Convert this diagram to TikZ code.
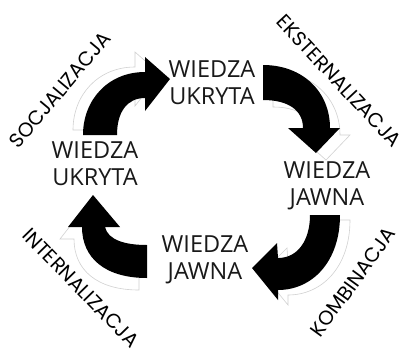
\documentclass[tikz,border=0pt]{standalone}
\usepackage{fontspec}
\setmainfont{Open Sans}
\newfontfamily\labelfont{Poppins}
\tikzset{
  know/.style={font=\fontsize{23.5}{27}\selectfont, align=center, inner sep=0pt, text=black!90},
  proc/.style={font=\labelfont\fontsize{20}{21}\selectfont, inner sep=0pt, text=black},
  blackarrow/.style={fill=black, draw=none},
  shadowarrow/.style={draw=black!18, line width=0.6pt, fill=white},
}
\def\arrowOne{(83,135) -- (117,135) .. controls (117,112) and (127,98) .. (145,98) -- (145,111) -- (170,79) -- (145,57) -- (145,72) .. controls (108,72) and (83,100) .. (83,135) -- cycle}
\def\arrowTwo{(263,65) .. controls (303,65) and (330,92) .. (330,128) -- (340,128) -- (316,153) -- (288,128) -- (303,128) .. controls (303,110) and (288,100) .. (263,100) -- cycle}
\def\arrowThree{(310,215) -- (340,215) .. controls (340,262) and (312,290) .. (278,290) -- (278,300) -- (252,268) -- (277,243) -- (278,258) .. controls (298,258) and (310,240) .. (310,215) -- cycle}
\def\arrowFour{(147,245) -- (147,278) .. controls (105,278) and (82,258) .. (82,227) -- (68,227) -- (93,195) -- (120,227) -- (105,227) .. controls (108,240) and (125,245) .. (147,245) -- cycle}
\begin{document}
\begin{tikzpicture}[x=1pt,y=-1pt]
\useasboundingbox[fill=white] (0,0) rectangle (402,354);
% shadow outlines
\draw[shadowarrow, shift={(-10,-5)}] \arrowOne;
\draw[shadowarrow, shift={(10,7)}] \arrowTwo;
\draw[shadowarrow, shift={(10,5)}] \arrowThree;
\draw[shadowarrow, shift={(-8,12)}] \arrowFour;
% black arrows
\fill[blackarrow] \arrowOne;
\fill[blackarrow] \arrowTwo;
\fill[blackarrow] \arrowThree;
\fill[blackarrow] \arrowFour;
% knowledge nodes
\node[know] (top) at (212,83) {WIEDZA\\UKRYTA};
\node[know] (right) at (327,186) {WIEDZA\\JAWNA};
\node[know] (bottom) at (205,260) {WIEDZA\\JAWNA};
\node[know] (left) at (95,164) {WIEDZA\\UKRYTA};
% process labels
\node[proc, rotate=50] (soc) at (60,90) {SOCJALIZACJA};
\node[proc, rotate=-47] (eks) at (339,81) {EKSTERNALIZACJA};
\node[proc, rotate=-45.8] (int) at (81,288) {INTERNALIZACJA};
\node[proc, rotate=54] (kom) at (353,282) {KOMBINACJA};
\end{tikzpicture}
\end{document}
